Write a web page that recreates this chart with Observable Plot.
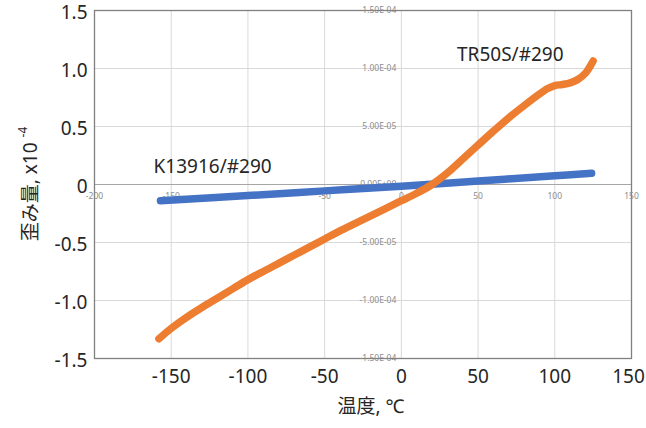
<!DOCTYPE html>
<html><head><meta charset="utf-8">
<script src="https://cdn.jsdelivr.net/npm/d3@7"></script>
<script src="https://cdn.jsdelivr.net/npm/@observablehq/plot@0.6"></script>
<style>body{margin:0;background:#fff}#chart{width:646px;height:428px}</style>
</head><body><div id="chart"></div>
<script>
// K13916/#290 (blue)
const k13916Temp   = [-157, -100, -50, 0, 50, 100, 124];
const k13916Strain = [-0.14, -0.095, -0.055, -0.015, 0.03, 0.075, 0.097];
// TR50S/#290 (orange)
const tr50sTemp   = [-158,-150,-140,-130,-120,-110,-100,-90,-80,-70,-60,-50,-40,-30,-20,-10,0,10,20,30,40,50,60,70,80,90,95,100,105,110,115,120,125];
const tr50sStrain = [-1.33,-1.24,-1.145,-1.06,-0.98,-0.90,-0.82,-0.75,-0.68,-0.61,-0.54,-0.47,-0.40,-0.335,-0.27,-0.205,-0.14,-0.075,0.0,0.10,0.22,0.34,0.46,0.575,0.68,0.78,0.825,0.853,0.862,0.876,0.905,0.96,1.065];

const xTicks = [-150, -100, -50, 0, 50, 100];
const xLastTick = [150];
const yTicks = [-1.5, -1.0, -0.5, 0, 0.5, 1.0, 1.5];
const innerXTicks = [-200, -150, -100, -50, 0, 50, 100, 150];
const innerYLabels = ["-1.50E-04","-1.00E-04","-5.00E-05","0.00E+00","5.00E-05","1.00E-04","1.50E-04"];
const seriesNames = ["K13916/#290", "TR50S/#290"];
const xTitle = "温度, ℃";
const yTitle = "歪み量, x10";
const yTitleExp = "-4";

const blue = k13916Temp.map((t, i) => ({t, s: k13916Strain[i]}));
const orange = tr50sTemp.map((t, i) => ({t, s: tr50sStrain[i]}));
const innerY = yTicks.map((v, i) => ({v, label: innerYLabels[i]}));

const font = '"Noto Sans", "Noto Sans CJK JP", sans-serif';
const ink = "#262626";

const chart = Plot.plot({
  width: 646, height: 428,
  marginLeft: 94, marginRight: 15, marginTop: 10, marginBottom: 70,
  style: {fontFamily: font, color: ink, background: "#fff"},
  x: {domain: [-200, 150]},
  y: {domain: [-1.5, 1.5]},
  marks: [
    Plot.gridX([-150, -100, -50, 0, 50, 100], {stroke: "#d9d9d9", strokeOpacity: 1}),
    Plot.gridY([-1.0, -0.5, 0.5, 1.0], {stroke: "#d9d9d9", strokeOpacity: 1}),
    Plot.ruleY([0], {stroke: "#a6a6a6"}),
    Plot.frame({stroke: "#808080", strokeWidth: 1.3}),
    Plot.text(innerXTicks, {x: d => d, y: 0, dy: 12, text: d => String(d), fontSize: 8.5, fill: "#8c8c8c"}),
    Plot.text(innerY, {x: 0, y: "v", dx: -5, textAnchor: "end", text: "label", fontSize: 8.5, fill: "#8c8c8c"}),
    Plot.line(blue, {x: "t", y: "s", stroke: "#4472c4", strokeWidth: 7.5, strokeLinecap: "round", curve: "catmull-rom"}),
    Plot.line(orange, {x: "t", y: "s", stroke: "#ed7d31", strokeWidth: 7.5, strokeLinecap: "round", curve: "catmull-rom"}),
    Plot.text([seriesNames[0]], {x: -123, y: 0.15, text: d => d, fontSize: 19, fill: ink}),
    Plot.text([seriesNames[1]], {x: 71, y: 1.12, text: d => d, fontSize: 19, fill: ink}),
    Plot.axisX(xTicks, {tickSize: 0, tickPadding: 11, fontSize: 19, tickFormat: d => String(d), label: null}),
    Plot.axisX(xLastTick, {tickSize: 0, tickPadding: 11, fontSize: 19, tickFormat: d => String(d), label: null, dx: -3}),
    Plot.axisY(yTicks, {tickSize: 0, tickPadding: 7, fontSize: 19, tickFormat: d => d === 0 ? "0" : d.toFixed(1), label: null, dy: 2}),
    Plot.text([xTitle], {frameAnchor: "bottom", dy: 54, text: d => d, fontSize: 19, fill: ink, dx: 8})
  ]
});
document.getElementById("chart").appendChild(chart);

// rotated y-axis title with superscript exponent
const svg = d3.select(chart);
const yt = svg.append("text")
  .attr("transform", "translate(30,184) rotate(-90)")
  .attr("text-anchor", "middle")
  .attr("dominant-baseline", "central")
  .attr("font-family", font)
  .attr("font-size", 19)
  .attr("fill", ink);
yt.append("tspan").text(yTitle + " ");
yt.append("tspan").attr("font-size", 12).attr("dy", -8).text(yTitleExp);
</script>
</body></html>
